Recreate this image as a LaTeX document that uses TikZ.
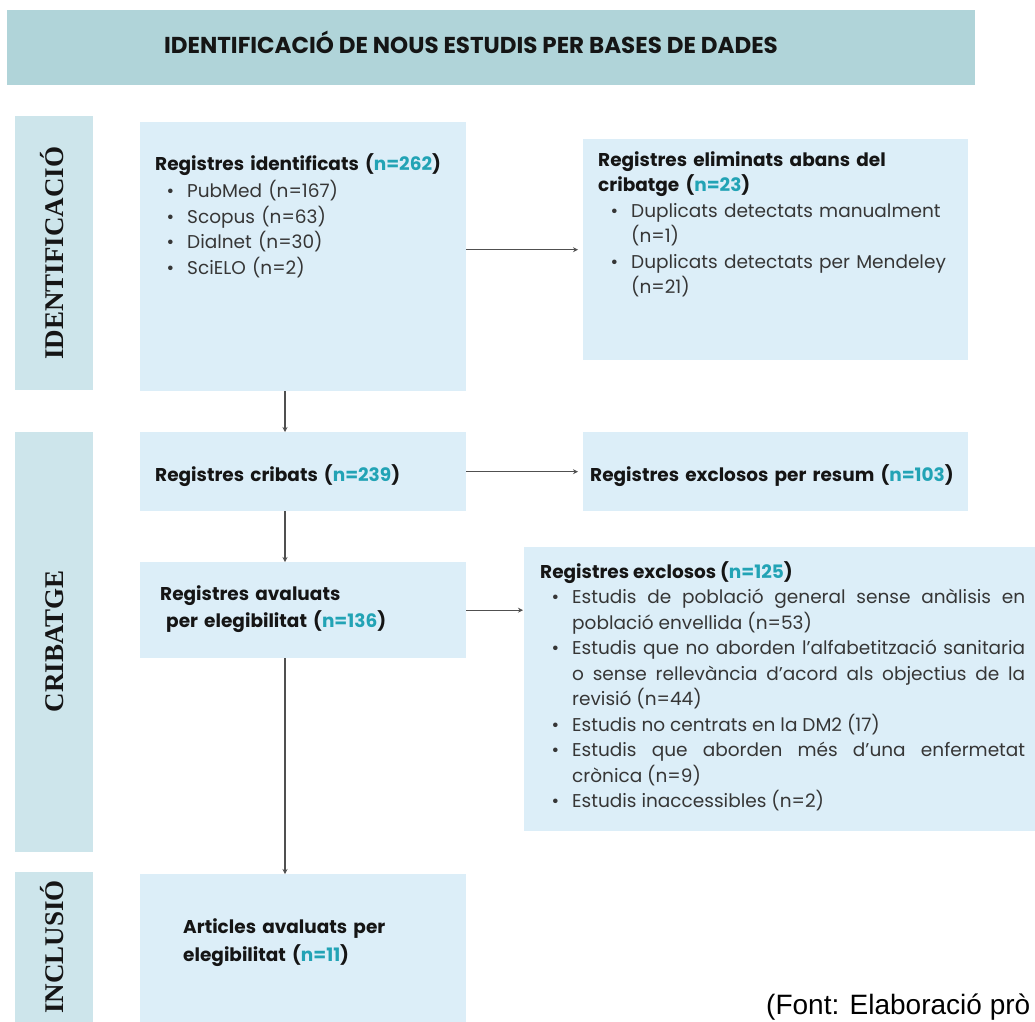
\documentclass[tikz,border=0pt]{standalone}
\usepackage{fontspec}
\setmainfont{Poppins}
\newfontfamily\tnr{Liberation Serif}
\newfontfamily\arialf{Liberation Sans}
\usetikzlibrary{arrows.meta}
\definecolor{hdrc}{HTML}{B0D4D9}
\definecolor{sidec}{HTML}{CDE5EB}
\definecolor{boxc}{HTML}{DCEEF8}
\definecolor{accc}{HTML}{22A3B5}
\definecolor{txtc}{HTML}{363636}
\definecolor{ttlc}{HTML}{151515}
\definecolor{arrc}{HTML}{505050}
\newcommand\nn[1]{\textcolor{accc}{#1}}
\newcommand\bul{\par\noindent\llap{\textbullet\hskip 13pt}}
\tikzset{
  box/.style={fill=boxc, inner sep=0pt, anchor=north west, draw=none},
  sidebox/.style={fill=sidec, inner sep=0pt, anchor=north west, draw=none},
  sidelbl/.style={rotate=90, anchor=base, inner sep=0pt, font=\tnr\bfseries\fontsize{27}{30}\selectfont, text=ttlc},
  tx/.style={inner sep=0pt, anchor=base west, text=txtc, font=\fontsize{18.5}{25.5}\selectfont},
  arr/.style={draw=arrc, line width=1.3pt, -{Stealth[length=5pt,width=5pt]}},
}
\begin{document}
\begin{tikzpicture}[x=1pt,y=-1pt]
\useasboundingbox (0,0) rectangle (1035,1021);
\clip (0,0) rectangle (1035,1021);
% header
\node[fill=hdrc, inner sep=0pt, anchor=north west, minimum width=968pt, minimum height=75pt] (hdr) at (7,10) {};
\node[inner sep=0pt, anchor=base, text=ttlc, font=\bfseries\fontsize{23}{26}\selectfont] (hdrt) at (471,53) {IDENTIFICACIÓ DE NOUS ESTUDIS PER BASES DE DADES};
% side boxes
\node[sidebox, minimum width=78pt, minimum height=274pt] (sI) at (15,116) {};
\node[sidebox, minimum width=78pt, minimum height=420pt] (sC) at (15,432) {};
\node[sidebox, minimum width=78pt, minimum height=160pt] (sN) at (15,872) {};
\node[sidelbl] (lI) at (63,253) {IDENTIFICACIÓ};
\node[sidelbl] (lC) at (63,641) {CRIBATGE};
\node[sidelbl] (lN) at (63,947) {INCLUSIÓ};
% boxes
\node[box, minimum width=326pt, minimum height=269pt] (b1) at (140,122) {};
\node[box, minimum width=385pt, minimum height=221pt] (b2) at (583,139) {};
\node[box, minimum width=326pt, minimum height=79pt] (b3) at (140,432) {};
\node[box, minimum width=385pt, minimum height=79pt] (br) at (583,432) {};
\node[box, minimum width=326pt, minimum height=96pt] (b4) at (140,562) {};
\node[box, minimum width=520pt, minimum height=284pt] (b5) at (524,547) {};
\node[box, minimum width=326pt, minimum height=160pt] (b6) at (140,874) {};
% texts
\node[tx, text width=305pt] (t1) at (155,170) {\noindent\textcolor{ttlc}{\bfseries Registres identificats (\nn{n=262})}\par\vskip2pt\leftskip=32pt
\bul PubMed (n=167)\bul Scopus (n=63)\bul Dialnet (n=30)\bul SciELO (n=2)\par};
\node[tx, text width=368pt] (t2) at (598,166) {\noindent\textcolor{ttlc}{\bfseries Registres eliminats abans del\\cribatge (\nn{n=23})}\par\leftskip=33pt
\bul Duplicats detectats manualment\\(n=1)\bul Duplicats detectats per Mendeley\\(n=21)\par};
\node[tx, text width=305pt] (t3) at (155,481) {\textcolor{ttlc}{\bfseries Registres cribats (\nn{n=239})}};
\node[tx, text width=375pt] (tr) at (590,481) {\textcolor{ttlc}{\bfseries Registres exclosos per resum (\nn{n=103})}};
\node[tx, text width=300pt, font=\fontsize{18.5}{27}\selectfont] (t4) at (160,600) {\textcolor{ttlc}{\bfseries Registres avaluats\\\hspace*{6pt}per elegibilitat (\nn{n=136})}};
\node[tx, text width=485pt, align=justify] (t5) at (540,578) {\noindent\textcolor{ttlc}{\bfseries Registres exclosos (\nn{n=125})}\par\leftskip=32pt
\bul Estudis de població general sense anàlisis en\linebreak població envellida (n=53)
\bul Estudis que no aborden l’alfabetització sanitaria\linebreak o sense rellevància d’acord als objectius de la\linebreak revisió (n=44)
\bul Estudis no centrats en la DM2 (17)
\bul Estudis que aborden més d’una enfermetat\linebreak crònica (n=9)
\bul Estudis inaccessibles (n=2)\par};
\node[tx, text width=300pt, font=\fontsize{18.5}{28}\selectfont] (t6) at (183,933) {\textcolor{ttlc}{\bfseries Articles avaluats per\\elegibilitat (\nn{n=11})}};
% footer
\node[inner sep=0pt, anchor=base west, text=black, font=\arialf\fontsize{28}{30}\selectfont] (src) at (766,1014) {(Font: Elaboració prò};
% connectors
\coordinate (vx) at (285,0);
\draw[arr, shorten >=5pt] (b1.east |- b2.west) -- (b2.west);
\draw[arr] (b1.south -| vx) -- (b3.north -| vx);
\draw[arr, shorten >=5pt] (b3.east) -- (br.west);
\draw[arr] (b3.south -| vx) -- (b4.north -| vx);
\draw[arr, shorten >=1pt] (b4.east) -- (b4.east -| b5.west);
\draw[arr] (b4.south -| vx) -- (b6.north -| vx);
\end{tikzpicture}
\end{document}
